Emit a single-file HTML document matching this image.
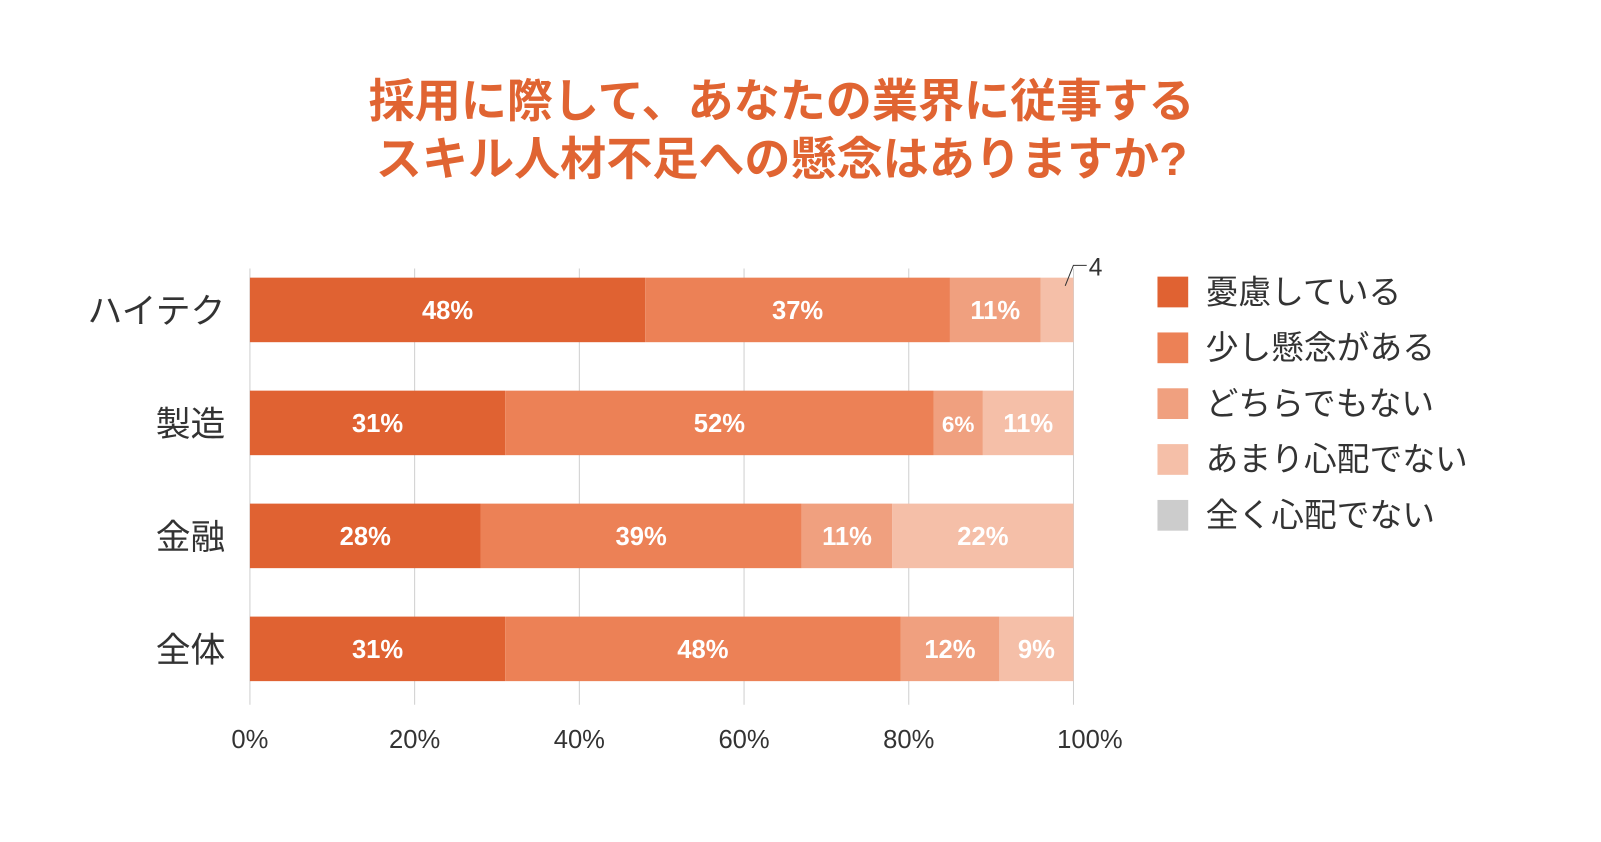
<!DOCTYPE html>
<html><head><meta charset="utf-8"><style>
body{margin:0;background:#fff;}
svg text{font-family:"Liberation Sans","Noto Sans CJK JP",sans-serif;}
</style></head><body>
<svg width="1601" height="837" viewBox="0 0 1563 817">
<g id="title" fill="#e06432" font-weight="bold" font-size="45" text-anchor="middle">
<text x="763" y="114">採用に際して、あなたの業界に従事する</text>
<text x="763" y="171">スキル人材不足への懸念はありますか?</text>
</g>
<g id="grid"></g><g id="bars"></g><g id="legend"></g>
</svg>
<script>
const categories=["ハイテク","製造","金融","全体"];
const s1=[48,31,28,31];
const s2=[37,52,39,48];
const s3=[11,6,11,12];
const s4=[4,11,22,9];
const s5=[0,0,0,0];
const seriesNames=["憂慮している","少し懸念がある","どちらでもない","あまり心配でない","全く心配でない"];
const ticks=[0,20,40,60,80,100];
const colors=["#e06232","#ec8156","#f0a07f","#f5bfa8","#cccccc"];
const NS="http://www.w3.org/2000/svg";
const x0=244,x1=1048,x=v=>x0+(x1-x0)*v/100;
const rowY=i=>271+i*110.3,bh=63;
function mk(t,a,p){const e=document.createElementNS(NS,t);for(const k in a)e.setAttribute(k,a[k]);p.appendChild(e);return e;}
const grid=document.getElementById('grid');
ticks.forEach(t=>{
 const l=mk('line',{x1:x(t),x2:x(t),y1:262,y2:688,stroke:'#cfcfcf','stroke-width':1},grid);
 
 
 const tx=mk('text',{x:x(t)+(t==100?16:0),y:730,'text-anchor':'middle','font-size':25,fill:'#333'},grid);
 tx.textContent=t+'%';
 
 
});
const bars=document.getElementById('bars');
const series=[s1,s2,s3,s4,s5];
categories.forEach((c,i)=>{
 const y=rowY(i);
 const cl=mk('text',{x:220,y:y+bh/2+13,'text-anchor':'end','font-size':34,fill:'#333'},bars);
 cl.textContent=c;
 
 
 let acc=0;
 series.forEach((s,j)=>{
  const v=s[i]; if(!v){return;}
  const r=mk('rect',{x:x(acc),y:y,width:x(acc+v)-x(acc),height:bh,fill:colors[j]},bars);
  
  
  const cx=(x(acc)+x(acc+v))/2;
  if(v>=6){
   const t=mk('text',{x:cx,y:y+bh/2+9,'text-anchor':'middle','font-size':v<8?22:25,'font-weight':'bold',fill:'#fff'},bars);
   t.textContent=v+'%';
   
   
  } else {
   const p=mk('polyline',{points:`${cx+8},${y+8} ${cx+16},${y-12} ${cx+29},${y-12}`,fill:'none',stroke:'#333','stroke-width':1},bars);
   
   
   const t=mk('text',{x:cx+31,y:y-2,'font-size':24,fill:'#333'},bars);
   t.textContent=v;
   
   
  }
  acc+=v;
 });
});
const lg=document.getElementById('legend');
seriesNames.forEach((n,j)=>{
 const y=270+j*54.5;
 const r=mk('rect',{x:1130,y:y,width:30,height:30,fill:colors[j]},lg);
 
 
 const t=mk('text',{x:1177,y:y+26,'font-size':32,fill:'#333'},lg);
 t.textContent=n;
 
 
});
</script>
</body></html>
